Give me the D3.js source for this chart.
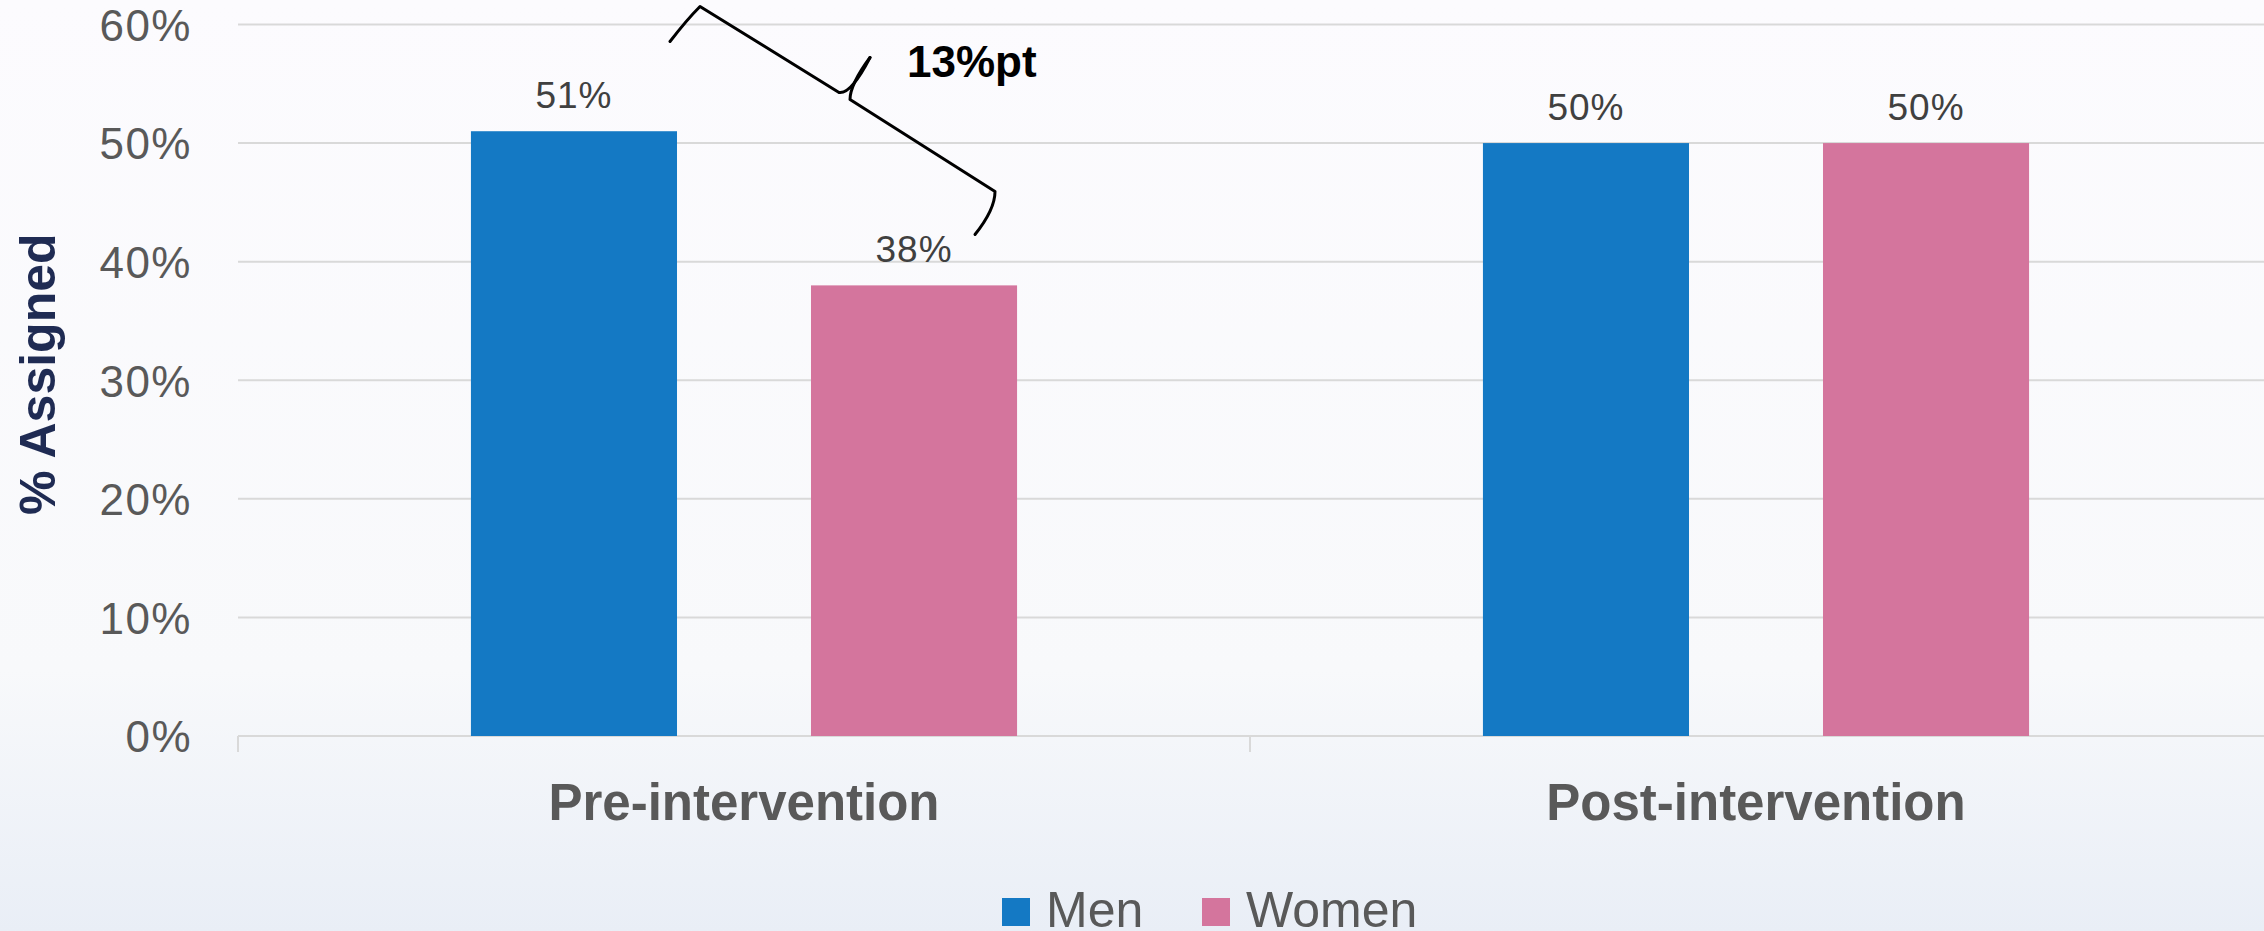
<!DOCTYPE html>
<html>
<head>
<meta charset="utf-8">
<script src="https://cdn.jsdelivr.net/npm/d3@7/dist/d3.min.js"></script>
<style>
  html, body { margin: 0; padding: 0; overflow: hidden; }
  body { width: 2264px; height: 931px; }
  text { font-family: "Liberation Sans", Arial, sans-serif; }
</style>
</head>
<body>
<svg id="chart" width="2264" height="931"></svg>
<script>
// data
var categories = ["Pre-intervention", "Post-intervention"];
var series = ["Men", "Women"];
var menValues = [0.51, 0.50];
var womenValues = [0.38, 0.50];
var yTicks = [0, 0.1, 0.2, 0.3, 0.4, 0.5, 0.6];
var seriesColors = ["#1479c4", "#d4759d"];
var gapLabel = "13%pt";

var svg = d3.select("#chart"),
    width = 2264,
    height = 931;

// background: light, slightly bluish towards the bottom
var defs = svg.append("defs");
var grad = defs.append("linearGradient")
    .attr("id", "bg")
    .attr("x1", 0).attr("y1", 0).attr("x2", 0).attr("y2", 1);
grad.append("stop").attr("offset", "0%").attr("stop-color", "#fcfbfe");
grad.append("stop").attr("offset", "72%").attr("stop-color", "#f8f9fb");
grad.append("stop").attr("offset", "100%").attr("stop-color", "#e9eef6");
svg.append("rect").attr("width", width).attr("height", height).attr("fill", "url(#bg)");

// plot area (window.top is reserved, so other names here)
var plotLeft = 238, plotRight = 2262, plotTop = 24.5, plotBottom = 736;

var x0 = d3.scaleBand().domain(categories).range([plotLeft, plotRight]).padding(0);
var x1 = d3.scaleBand().domain(series).range([0, x0.bandwidth()])
    .paddingInner(0.394).paddingOuter(0.685);
var y = d3.scaleLinear().domain([0, 0.6]).range([plotBottom, plotTop]);
var color = d3.scaleOrdinal().domain(series).range(seriesColors);

// gridlines
svg.append("g")
   .selectAll("line")
   .data(yTicks)
   .enter().append("line")
   .attr("x1", plotLeft).attr("x2", plotRight + 2)
   .attr("y1", function(d) { return y(d); })
   .attr("y2", function(d) { return y(d); })
   .attr("stroke", "#d9d9d9")
   .attr("stroke-width", 2);

// y tick labels
var yAxis = svg.append("g")
   .attr("transform", "translate(" + (plotLeft - 46) + ",0)")
   .call(d3.axisLeft(y).tickValues(yTicks).tickFormat(d3.format(".0%")).tickSize(0).tickPadding(0));
yAxis.select(".domain").remove();
yAxis.selectAll("text")
   .attr("fill", "#595959")
   .style("font-size", "44px")
   .style("letter-spacing", "1.5px")
   .attr("dy", "0.36em");

// category ticks on the baseline
var catBounds = [plotLeft].concat(categories.map(function(c) { return x0(c) + x0.bandwidth(); }));
svg.append("g")
   .selectAll("line")
   .data(catBounds.slice(0, catBounds.length - 1))
   .enter().append("line")
   .attr("x1", function(d) { return d; })
   .attr("x2", function(d) { return d; })
   .attr("y1", plotBottom)
   .attr("y2", plotBottom + 16)
   .attr("stroke", "#d9d9d9")
   .attr("stroke-width", 2);

// rows: one per category
var rows = categories.map(function(c, i) {
    return { cat: c, values: [ { key: "Men", v: menValues[i] }, { key: "Women", v: womenValues[i] } ] };
});

var groups = svg.selectAll(".cat")
   .data(rows)
   .enter().append("g")
   .attr("class", "cat")
   .attr("transform", function(d) { return "translate(" + x0(d.cat) + ",0)"; });

groups.selectAll("rect")
   .data(function(d) { return d.values; })
   .enter().append("rect")
   .attr("x", function(d) { return x1(d.key); })
   .attr("y", function(d) { return y(d.v); })
   .attr("width", x1.bandwidth())
   .attr("height", function(d) { return y(0) - y(d.v); })
   .attr("fill", function(d) { return color(d.key); });

groups.selectAll(".val")
   .data(function(d) { return d.values; })
   .enter().append("text")
   .attr("class", "val")
   .attr("x", function(d) { return x1(d.key) + x1.bandwidth() / 2; })
   .attr("y", function(d) { return y(d.v) - 23; })
   .attr("text-anchor", "middle")
   .attr("fill", "#404040")
   .style("font-size", "37px")
   .style("letter-spacing", "1px")
   .text(function(d) { return Math.round(d.v * 100) + "%"; });

// category labels
svg.append("g")
   .selectAll("text")
   .data(categories)
   .enter().append("text")
   .attr("x", function(d) { return x0(d) + x0.bandwidth() / 2; })
   .attr("y", 820)
   .attr("text-anchor", "middle")
   .attr("fill", "#595959")
   .style("font-size", "51px")
   .style("font-weight", "bold")
   .text(function(d) { return d; });

// y axis title
svg.append("text")
   .attr("transform", "translate(55," + ((plotTop + plotBottom) / 2 - 6) + ") rotate(-90)")
   .attr("text-anchor", "middle")
   .attr("fill", "#1f2b53")
   .style("font-size", "50px")
   .style("font-weight", "bold")
   .text("% Assigned");

// hand drawn brace between the two pre-intervention bars
var bx = x0(categories[0]) + x1("Men") + x1.bandwidth();   // right edge of men bar
var by = y(0.6);
var brace = svg.append("g")
   .attr("transform", "translate(" + bx + "," + by + ")")
   .attr("fill", "none")
   .attr("stroke", "#000")
   .attr("stroke-width", 3)
   .attr("stroke-linecap", "round")
   .attr("stroke-linejoin", "round");
brace.append("path")
   .attr("d", "M-7,17 Q10,-5 23,-18 L162,68 Q174,70 193,33");
brace.append("path")
   .attr("d", "M193,33 Q173,60 173,75 L318,167 Q318,185 298,210");

svg.append("text")
   .attr("x", bx + 230)
   .attr("y", by + 52)
   .attr("fill", "#000")
   .style("font-size", "44px")
   .style("font-weight", "bold")
   .text(gapLabel);

// legend (cut at the bottom edge, as in the picture)
var legend = svg.append("g")
   .selectAll("g")
   .data(series)
   .enter().append("g")
   .attr("transform", function(d, i) { return "translate(" + (1002 + i * 200) + ",898)"; });
legend.append("rect")
   .attr("width", 28).attr("height", 28)
   .attr("fill", function(d) { return color(d); });
legend.append("text")
   .attr("x", 44)
   .attr("y", 29)
   .attr("fill", "#595959")
   .style("font-size", "50px")
   .text(function(d) { return d; });
</script>
</body>
</html>
